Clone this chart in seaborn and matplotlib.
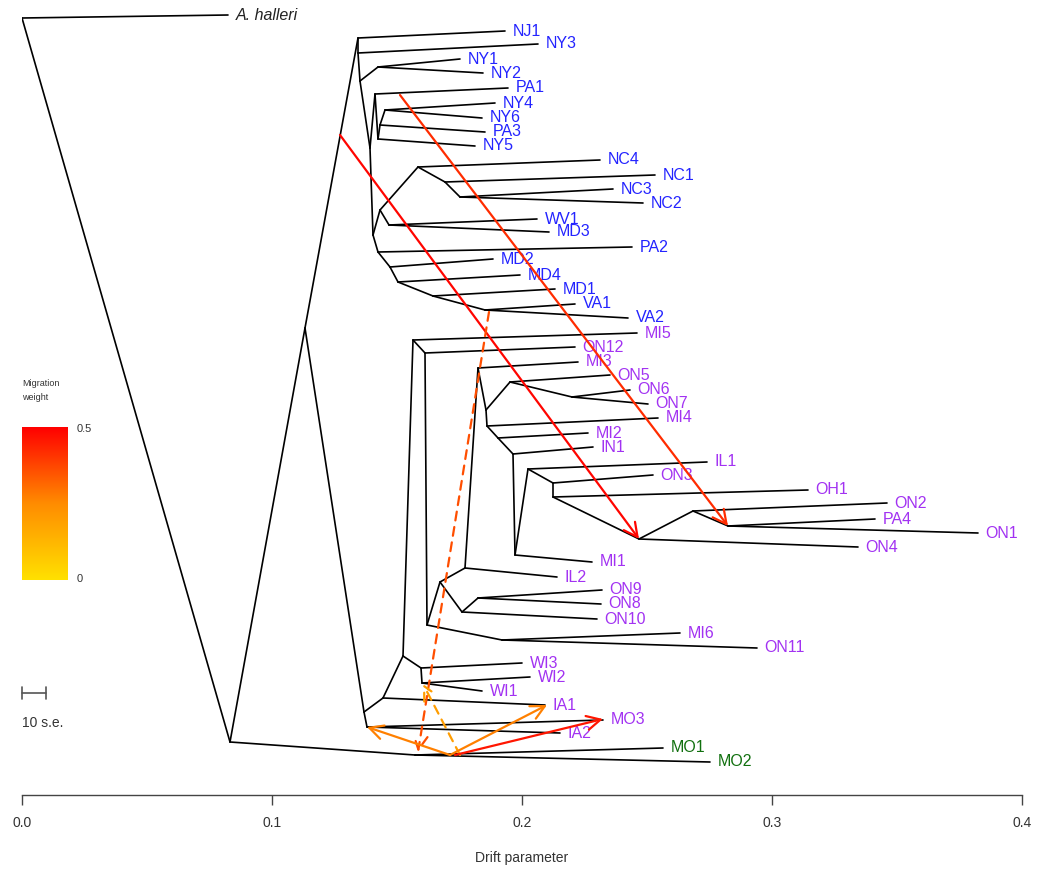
import numpy as np
import pandas as pd
import matplotlib
matplotlib.use("Agg")
import matplotlib.pyplot as plt
import seaborn as sns
from matplotlib.colors import LinearSegmentedColormap

# ---------------- data: tree nodes (drift position, vertical row, parent) -------------
node_name = ["root", "A. halleri", "n1", "n2",
             "t1", "NJ1", "t2", "NY3", "t3", "ny12", "NY1", "NY2",
             "t4", "pa", "PA1", "pb", "NY5", "pc", "PA3", "pd", "NY4", "NY6",
             "t5", "nca", "ncb", "NC4", "ncc", "NC1", "ncd", "NC3", "NC2",
             "wv", "WV1", "MD3",
             "ma", "PA2", "mb", "MD2", "mc", "MD4", "md", "MD1", "me", "VA1", "VA2",
             "b1", "b2", "IA1", "b3", "wia", "WI3", "wib", "WI2", "WI1",
             "moc", "MO3", "IA2",
             "p1", "MI5", "p2", "ON12", "p3", "p4", "p5", "IL2",
             "p6", "MI3", "p7", "p8", "ON5", "p9", "ON6", "ON7",
             "p10", "MI4", "p11", "MI2", "p12", "IN1", "p13", "MI1",
             "p14", "IL1", "p15", "ON3", "p16", "OH1", "p17", "ON4",
             "p18", "ON2", "p19", "PA4", "ON1",
             "p20", "ON10", "p21", "ON9", "ON8",
             "p22", "MI6", "ON11",
             "mon", "MO1", "MO2"]
node_drift = [0.0000, 0.0824, 0.0832, 0.1132,
              0.1344, 0.1932, 0.1344, 0.2064, 0.1352, 0.1424, 0.1752, 0.1844,
              0.1392, 0.1412, 0.1944, 0.1424, 0.1812, 0.1432, 0.1852, 0.1452, 0.1892, 0.1840,
              0.1404, 0.1432, 0.1584, 0.2312, 0.1692, 0.2532, 0.1752, 0.2364, 0.2484,
              0.1468, 0.2060, 0.2108,
              0.1424, 0.2440, 0.1472, 0.1884, 0.1504, 0.1992, 0.1644, 0.2132, 0.1852, 0.2212, 0.2424,
              0.1368, 0.1444, 0.2092, 0.1524, 0.1596, 0.2000, 0.1600, 0.2032, 0.1840,
              0.1380, 0.2324, 0.2152,
              0.1564, 0.2460, 0.1612, 0.2212, 0.1620, 0.1672, 0.1772, 0.2140,
              0.1824, 0.2224, 0.1856, 0.1952, 0.2352, 0.2200, 0.2432, 0.2504,
              0.1860, 0.2544, 0.1904, 0.2264, 0.1964, 0.2284, 0.1972, 0.2280,
              0.2024, 0.2740, 0.2124, 0.2524, 0.2124, 0.3144, 0.2468, 0.3344,
              0.2684, 0.3460, 0.2824, 0.3412, 0.3824,
              0.1760, 0.2300, 0.1824, 0.2320, 0.2316,
              0.1920, 0.2632, 0.2940,
              0.1572, 0.2564, 0.2752]
node_row = [18, 15, 742, 328,
            38, 31, 53, 44, 81, 67, 59, 73,
            148, 94, 88, 139, 146, 125, 132, 110, 103, 118,
            235, 210, 167, 160, 182, 175, 197, 189, 203,
            225, 219, 232,
            252, 247, 267, 259, 282, 275, 296, 289, 310, 304, 318,
            712, 698, 705, 656, 668, 663, 683, 677, 691,
            727, 720, 733,
            340, 333, 353, 347, 625, 582, 568, 577,
            368, 362, 410, 382, 375, 397, 390, 404,
            426, 418, 438, 433, 454, 447, 555, 562,
            469, 462, 483, 475, 497, 490, 539, 547,
            511, 503, 526, 519, 533,
            612, 619, 598, 590, 604,
            640, 633, 648,
            755, 748, 762]
node_parent = [None, "root", "root", "n1",
               "n2", "t1", "t1", "t2", "t2", "t3", "ny12", "ny12",
               "t3", "t4", "pa", "pa", "pb", "pb", "pc", "pc", "pd", "pd",
               "t4", "t5", "nca", "ncb", "ncb", "ncc", "ncc", "ncd", "ncd",
               "nca", "wv", "wv",
               "t5", "ma", "ma", "mb", "mb", "mc", "mc", "md", "md", "me", "me",
               "n2", "b1", "b2", "b2", "b3", "wia", "wia", "wib", "wib",
               "b1", "moc", "moc",
               "b3", "p1", "p1", "p2", "p2", "p3", "p4", "p5",
               "p5", "p6", "p6", "p7", "p8", "p8", "p9", "p9",
               "p7", "p10", "p10", "p11", "p11", "p12", "p12", "p13",
               "p13", "p14", "p14", "p15", "p15", "p16", "p16", "p17",
               "p17", "p18", "p18", "p19", "p19",
               "p4", "p20", "p20", "p21", "p21",
               "p3", "p22", "p22",
               "n1", "mon", "mon"]

blue_tips = ["NJ1", "NY3", "NY1", "NY2", "PA1", "NY4", "NY6", "PA3", "NY5",
             "NC4", "NC1", "NC3", "NC2", "WV1", "MD3", "PA2", "MD2", "MD4",
             "MD1", "VA1", "VA2"]
green_tips = ["MO1", "MO2"]
outgroup = ["A. halleri"]

# ---------------- migration edges -------------
mig_from_drift = [0.1272, 0.1512, 0.1868, 0.1752, 0.1712, 0.1712, 0.1732]
mig_from_row = [135, 95, 312, 755, 755, 755, 755]
mig_to_drift = [0.2468, 0.2824, 0.1584, 0.1604, 0.2100, 0.1380, 0.2324]
mig_to_row = [539, 526, 752, 684, 705, 727, 719]
mig_weight = [0.49, 0.42, 0.36, 0.20, 0.27, 0.27, 0.46]
mig_dashed = [False, False, True, True, False, False, False]

x_ticks = [0.0, 0.1, 0.2, 0.3, 0.4]

# ---------------- figure -------------
sns.set_theme(style="white")
plt.rcParams["font.family"] = ["Liberation Sans", "DejaVu Sans"]

W, H = 1038, 873
fig = plt.figure(figsize=(W / 100, H / 100), dpi=100)
ax = fig.add_axes([22 / W, 1 - 795 / H, 1000 / W, 795 / H])

pos = {n: (x, y) for n, x, y in zip(node_name, node_drift, node_row)}
rows = []
for i, (n, p) in enumerate(zip(node_name, node_parent)):
    if p is None:
        continue
    rows.append({"edge": i, "drift": pos[p][0], "row": pos[p][1], "k": 0})
    rows.append({"edge": i, "drift": pos[n][0], "row": pos[n][1], "k": 1})
edges = pd.DataFrame(rows)
sns.lineplot(data=edges, x="drift", y="row", units="edge", estimator=None,
             sort=False, color="black", lw=1.2, ax=ax, legend=False)

# tip labels
children = set(p for p in node_parent if p is not None)
for n in node_name:
    if n in children or n == "root":
        continue
    if n in blue_tips:
        col = "#2424ff"
    elif n in green_tips:
        col = "#11700f"
    elif n in outgroup:
        col = "#222222"
    else:
        col = "#a232f2"
    ax.annotate(n, xy=pos[n], xytext=(5.5, 0), textcoords="offset points",
                ha="left", va="center", fontsize=11.5, color=col,
                style="italic" if n in outgroup else "normal",
                annotation_clip=False)

# migration arrows
cmap = LinearSegmentedColormap.from_list("mig", ["#ffe100", "#ff8c00", "#ff0000"])
for fx, fy, tx, ty, w, d in zip(mig_from_drift, mig_from_row, mig_to_drift,
                                mig_to_row, mig_weight, mig_dashed):
    ax.annotate("", xy=(tx, ty), xytext=(fx, fy),
                arrowprops=dict(arrowstyle="->,head_length=0.55,head_width=0.28",
                                color=cmap(w / 0.5), lw=1.6,
                                linestyle=(0, (4, 3)) if d else "-",
                                shrinkA=0, shrinkB=0, mutation_scale=18),
                annotation_clip=False)

ax.set_xlim(0, 0.4)
ax.set_ylim(795, 0)
ax.set_xticks(x_ticks)
ax.set_xticklabels([f"{t:.1f}" for t in x_ticks])
ax.set_yticks([])
ax.set_ylabel("")
ax.set_xlabel("Drift parameter", fontsize=10, color="#333333", labelpad=15.5)
for s in ["left", "top", "right"]:
    ax.spines[s].set_visible(False)
ax.spines["bottom"].set_color("#444444")
ax.spines["bottom"].set_linewidth(1.0)
ax.tick_params(axis="x", direction="out", length=7, width=1.0, color="#444444",
               labelsize=10, labelcolor="#333333", pad=8, bottom=True)

# scale bar (10 s.e.)
se_len = 0.0096
ax.plot([0, se_len], [693, 693], color="#555555", lw=1.2, clip_on=False)
ax.plot([0, 0], [687, 699], color="#555555", lw=1.2, clip_on=False)
ax.plot([se_len, se_len], [687, 699], color="#555555", lw=1.2, clip_on=False)
ax.text(0, 723, "10 s.e.", fontsize=10, color="#333333", ha="left", va="center")

# migration weight colour bar
cax = fig.add_axes([22 / W, 1 - 580 / H, 46 / W, 153 / H])
grad = np.linspace(0, 1, 256).reshape(-1, 1)
cax.imshow(grad, aspect="auto", cmap=cmap, origin="lower", extent=[0, 1, 0, 1])
cax.set_xticks([])
cax.set_yticks([])
for s in cax.spines.values():
    s.set_visible(False)
fig.text(77 / W, 1 - 429 / H, "0.5", fontsize=8, color="#333333", va="center")
fig.text(77 / W, 1 - 579 / H, "0", fontsize=8, color="#333333", va="center")
fig.text(22 / W, 1 - 383 / H, "Migration", fontsize=6.5, color="#333333", va="center")
fig.text(22 / W, 1 - 398 / H, "weight", fontsize=6.5, color="#333333", va="center")

fig.savefig("out.png", dpi=100)
